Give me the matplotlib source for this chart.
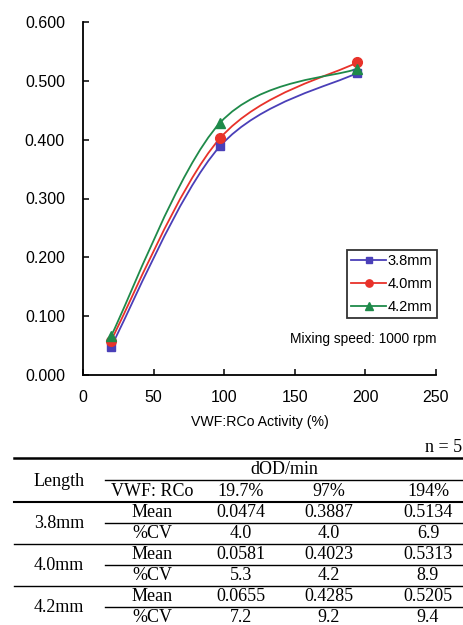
import numpy as np
import matplotlib
matplotlib.use("Agg")
import matplotlib.pyplot as plt
from matplotlib.path import Path
from matplotlib.patches import PathPatch
from matplotlib.lines import Line2D

# data
activity = [19.7, 97, 194]
act_labels = ["19.7%", "97%", "194%"]
lengths = ["3.8mm", "4.0mm", "4.2mm"]
mean_38 = [0.0474, 0.3887, 0.5134]
mean_40 = [0.0581, 0.4023, 0.5313]
mean_42 = [0.0655, 0.4285, 0.5205]
cv_38 = [4.0, 4.0, 6.9]
cv_40 = [5.3, 4.2, 8.9]
cv_42 = [7.2, 9.2, 9.4]
means = [mean_38, mean_40, mean_42]
cvs = [cv_38, cv_40, cv_42]

colors = ["#4a3fb8", "#e8322a", "#1f8a4a"]
markers = ["s", "o", "^"]
msizes = [5.5, 7, 7]

XMAX, YMAX = 250, 0.6


def smooth_path(xs, ys):
    # excel-like smoothed line, bezier through points (in axis-normalised space)
    p = np.column_stack([np.array(xs) / XMAX, np.array(ys) / YMAX])
    n = len(p)
    verts = [p[0]]
    codes = [Path.MOVETO]
    for i in range(n - 1):
        p0 = p[max(i - 1, 0)]
        p1 = p[i]
        p2 = p[i + 1]
        p3 = p[min(i + 2, n - 1)]
        c1 = p1 + (p2 - p0) / 6
        c2 = p2 - (p3 - p1) / 6
        verts += [c1, c2, p2]
        codes += [Path.CURVE4] * 3
    v = np.array(verts) * [XMAX, YMAX]
    return Path(v, codes)


plt.rcParams['font.family'] = ['Liberation Sans', 'DejaVu Sans']

fig = plt.figure(figsize=(4.64, 6.25), dpi=100)
ax = fig.add_axes([83 / 464, 0.4, 353 / 464, 353 / 625])

for m, c, mk, ms, lab in zip(means, colors, markers, msizes, lengths):
    ax.add_patch(PathPatch(smooth_path(activity, m), facecolor='none',
                           edgecolor=c, lw=1.3, zorder=2))
    ax.plot(activity, m, ls='none', marker=mk, ms=ms, color=c, zorder=3)

ax.set_xlim(0, XMAX)
ax.set_ylim(0, YMAX)
ax.set_xticks([0, 50, 100, 150, 200, 250])
ax.set_yticks(np.arange(0, 0.61, 0.1))
ax.set_yticklabels([f"{v:.3f}" for v in np.arange(0, 0.61, 0.1)])
for s in ['top', 'right']:
    ax.spines[s].set_visible(False)
for s in ['left', 'bottom']:
    ax.spines[s].set_linewidth(1.3)
ax.tick_params(direction='in', length=4, width=1.1, labelsize=11.5)
ax.tick_params(axis='y', pad=13)
ax.tick_params(axis='x', pad=11)
ax.set_xlabel("VWF:RCo Activity (%)", fontsize=10.2, labelpad=7)

handles = [Line2D([], [], color=c, marker=mk, ms=ms * 0.75, lw=1.3)
           for c, mk, ms in zip(colors, markers, msizes)]
leg = fig.legend(handles, lengths, loc='upper left',
                 bbox_to_anchor=(347 / 464, 1 - 250 / 625),
                 fontsize=10.5, frameon=True, fancybox=False,
                 edgecolor='black', handlelength=2.4, handletextpad=0.1,
                 labelspacing=0.6, borderpad=0.3, borderaxespad=0)
leg.get_frame().set_linewidth(1.3)

fig.text(437 / 464, 1 - 339 / 625, "Mixing speed: 1000 rpm", ha='right',
         va='center', fontsize=9.9)

# table
tb = fig.add_axes([0, 0, 1, 1], zorder=-1)
tb.set_xlim(0, 464)
tb.set_ylim(625, 0)
tb.axis('off')
serif = dict(family=['Liberation Serif', 'DejaVu Serif'], fontsize=13,
             ha='center', va='center')

tb.text(462, 447, "n = 5", **{**serif, 'ha': 'right'})
tb.plot([14, 464], [458, 458], color='black', lw=1.8)
tb.text(59, 481, "Length", **serif)
tb.text(284, 469, "dOD/min", **serif)
tb.plot([105, 464], [480, 480], color='black', lw=1.0)
col_x = [241, 329, 428]
tb.text(152, 491, "VWF: RCo", **serif)
for x, lab in zip(col_x, act_labels):
    tb.text(x, 491, lab, **serif)
tb.plot([14, 464], [501.5, 501.5], color='black', lw=1.5)

row_h = 21.0
y0 = 512.5
for i, (name, m, cv) in enumerate(zip(lengths, means, cvs)):
    ym = y0 + 2 * i * row_h
    yc = ym + row_h
    tb.text(59, (ym + yc) / 2, name, **serif)
    tb.text(152, ym, "Mean", **serif)
    tb.text(152, yc, "%CV", **serif)
    for x, a, b in zip(col_x, m, cv):
        tb.text(x, ym, f"{a:.4f}", **serif)
        tb.text(x, yc, f"{b:.1f}", **serif)
    tb.plot([105, 464], [ym + row_h / 2, ym + row_h / 2], color='black', lw=1.0)
    if i < 2:
        tb.plot([14, 464], [yc + row_h / 2, yc + row_h / 2], color='black', lw=1.0)

fig.savefig("out.png", dpi=100)
